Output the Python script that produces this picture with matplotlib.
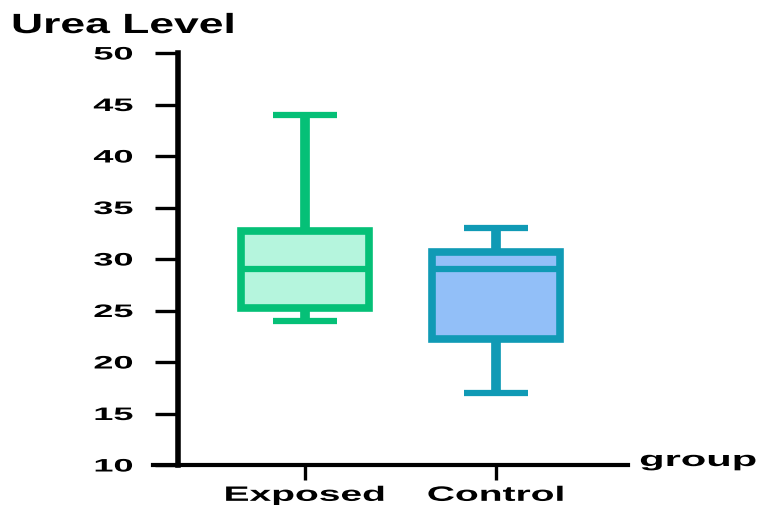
import matplotlib.pyplot as plt
from matplotlib import patheffects
from matplotlib.transforms import Affine2D

# ---- data ----
groups = ["Exposed", "Control"]
whisker_low = [24, 17]
q1 = [25.2, 22.2]
medians = [29, 29]
q3 = [32.7, 30.7]
whisker_high = [44, 33]

edge_colors = ["#05C077", "#109AB5"]
fill_colors = ["#B5F5DD", "#92BFF8"]

plt.rcParams["font.family"] = ["Liberation Sans", "DejaVu Sans"]
plt.rcParams["font.weight"] = "bold"


class Stretch(patheffects.AbstractPathEffect):
    """Widen the glyphs horizontally (the reference text is stretched)."""

    def __init__(self, sx, anchor="center"):
        super().__init__()
        self.sx = sx
        self.anchor = anchor

    def draw_path(self, renderer, gc, tpath, affine, rgbFace=None):
        ext = tpath.get_extents()
        if self.anchor == "left":
            cx = ext.x0
        elif self.anchor == "right":
            cx = ext.x1
        else:
            cx = (ext.x0 + ext.x1) / 2
        t = Affine2D().translate(-cx, 0).scale(self.sx, 1).translate(cx, 0) + affine
        renderer.draw_path(gc, tpath, t, rgbFace)


fig = plt.figure(figsize=(7.61, 5.06), dpi=100)
ax = fig.add_axes([153 / 761, 40 / 506, (628 - 153) / 761, (466 - 54) / 506])

stats = []
for i, g in enumerate(groups):
    stats.append({"label": g, "whislo": whisker_low[i], "q1": q1[i],
                  "med": medians[i], "q3": q3[i], "whishi": whisker_high[i],
                  "fliers": []})

positions = list(range(1, len(groups) + 1))
bp = ax.bxp(stats, positions=positions, widths=0.67, patch_artist=True,
            showfliers=False, capwidths=0.33)

for i in range(len(groups)):
    box = bp["boxes"][i]
    box.set_facecolor(fill_colors[i])
    box.set_edgecolor(edge_colors[i])
    box.set_linewidth(5.5)
    bp["medians"][i].set_color(edge_colors[i])
    bp["medians"][i].set_linewidth(4.5)
    for w in bp["whiskers"][2 * i:2 * i + 2]:
        w.set_color(edge_colors[i])
        w.set_linewidth(7)
        w.set_solid_capstyle("butt")
        w.set_zorder(1)
    for c in bp["caps"][2 * i:2 * i + 2]:
        c.set_color(edge_colors[i])
        c.set_linewidth(4.5)
        c.set_solid_capstyle("butt")

ax.set_xlim(0.2042, 2.691)
ax.set_ylim(10, 50)
ax.set_yticks(range(10, 51, 5))
ax.set_xticks(positions)
ax.set_xticklabels(groups)

ax.spines["top"].set_visible(False)
ax.spines["right"].set_visible(False)
ax.spines["left"].set_position(("data", 0.335))
ax.spines["left"].set_linewidth(4)
ax.spines["bottom"].set_linewidth(3)

ax.tick_params(axis="y", length=16.5, width=2.4, pad=16, labelsize=13)
ax.tick_params(axis="x", length=11, width=2.4, pad=4, labelsize=15)
for lbl in ax.get_yticklabels():
    lbl.set_fontweight("bold")
    lbl.set_path_effects([Stretch(2.0, "right")])
for lbl in ax.get_xticklabels():
    lbl.set_fontweight("bold")
    lbl.set_path_effects([Stretch(1.87, "center")])

fig.text(12 / 761, 1 - 34 / 506, "Urea Level", fontsize=20, fontweight="bold",
         va="baseline", ha="left", path_effects=[Stretch(1.6, "left")])
fig.text(640 / 761, 1 - 467 / 506, "group", fontsize=15, fontweight="bold",
         va="baseline", ha="left", path_effects=[Stretch(2.0, "left")])

fig.savefig("out.png", dpi=100)
